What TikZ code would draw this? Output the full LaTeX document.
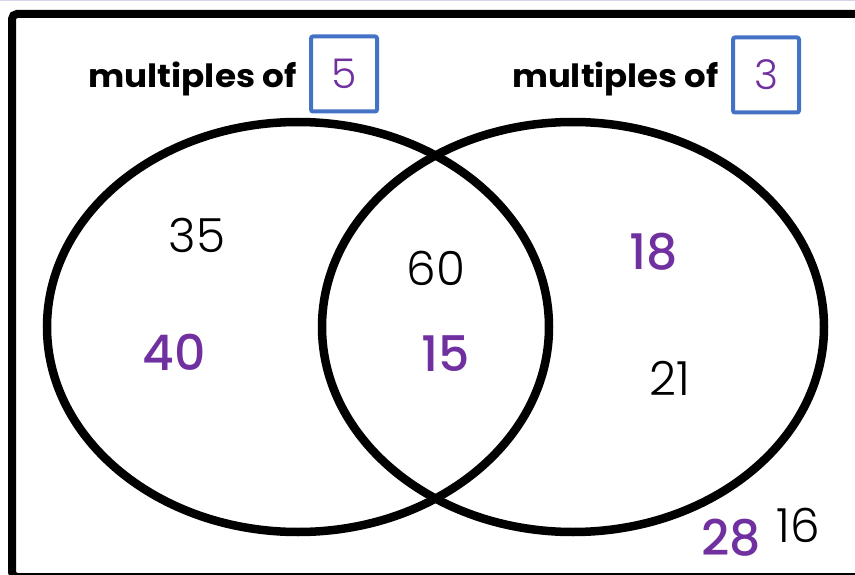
\documentclass[tikz,border=0pt]{standalone}
\usepackage{fontspec}
\setmainfont{Poppins}
\newfontfamily\lbl{Poppins}[UprightFont={* Bold}]
\newfontfamily\thindig{Poppins}[UprightFont={* Light}]
\newfontfamily\meddig{Poppins}[UprightFont={* Medium}]
\definecolor{vpurple}{HTML}{7030A0}
\definecolor{vblue}{HTML}{4472C4}
\definecolor{lav}{HTML}{D9D2E9}
\begin{document}
\begin{tikzpicture}[x=1pt,y=-1pt,
  setring/.style={draw=black,line width=8.5pt},
  title/.style={inner sep=0pt,anchor=base west,font=\lbl\fontsize{32}{34}\selectfont},
  keybox/.style={draw=vblue,line width=4pt,rounded corners=2pt,minimum width=66pt,minimum height=75pt,inner sep=0pt,text=vpurple,font=\thindig\fontsize{41}{43}\selectfont},
  blk/.style={inner sep=0pt,text=black,font=\thindig\fontsize{47}{48}\selectfont},
  pur/.style={inner sep=0pt,text=vpurple,font=\meddig\fontsize{49}{50}\selectfont}]
\useasboundingbox (0,0) rectangle (855,575);
\fill[lav] (0,0) rectangle (855,1.5);
\draw[line width=8pt,rounded corners=5pt] (12,577) -- (12,14) -- (875,14) -- (875,577) -- cycle;
\draw[setring] (298,327) ellipse [x radius=251, y radius=205];
\draw[setring] (573,327) ellipse [x radius=251, y radius=205];
\node[title,xscale=1.07] (t5) at (88,88) {multiples of};
\node[title,xscale=1.06] (t3) at (512,88) {multiples of};
\node[keybox] (b5) at (344,74) {5};
\node[keybox] (b3) at (766,75) {3};
\node[blk] (n35) at (197,235) {35};
\node[blk] (n60) at (436,268) {60};
\node[blk] (n21) at (670,378) {21};
\node[blk] (n16) at (798,525) {16};
\node[pur] (n40) at (174,352) {40};
\node[pur] (n15) at (446,354) {15};
\node[pur] (n18) at (654,252) {18};
\node[pur] (n28) at (731,538) {28};
\end{tikzpicture}
\end{document}
